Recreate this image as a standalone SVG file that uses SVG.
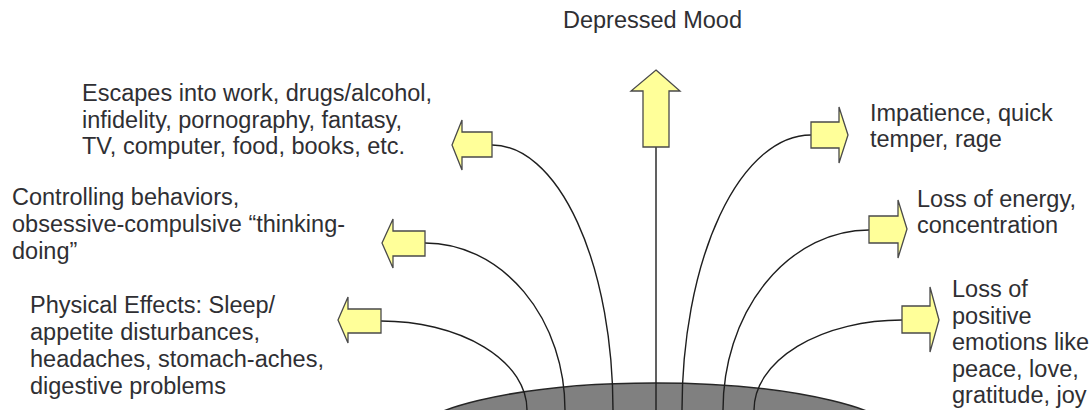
<svg xmlns="http://www.w3.org/2000/svg" width="1092" height="410" viewBox="0 0 1092 410">
<style>
.lbl{font-family:"Liberation Sans",Arial,sans-serif;font-size:23.5px;fill:#2f2f33}
.arr{fill:#ffff99;stroke:#4a4a4a;stroke-width:1.3;stroke-linejoin:miter}
.con{fill:none;stroke:#1e1e1e;stroke-width:1.4}
</style>
<rect width="1092" height="410" fill="#ffffff"/>
<g id="base">
<ellipse cx="655" cy="443" rx="250" ry="60" fill="#808080" stroke="#262626" stroke-width="1.5"/>
</g>
<g id="connectors">
<path class="con" d="M656,147 V412"/>
<path class="con" d="M492,145 A121,265 0 0 1 613,410"/>
<path class="con" d="M425,243 A140,167 0 0 1 565,410"/>
<path class="con" d="M381,321 A146,89 0 0 1 527,410"/>
<path class="con" d="M811,135 A129,275 0 0 0 682,410"/>
<path class="con" d="M869,230 A146,180 0 0 0 723,410"/>
<path class="con" d="M902,320 A148,90 0 0 0 754,410"/>
</g>
<g id="depressed-mood">
<path class="arr" d="M656,70 L680,91 L669,91 L669,147 L643,147 L643,91 L631,91 Z"/>
<text class="lbl" x="563" y="28">Depressed Mood</text>
</g>
<g id="escapes">
<path class="arr" d="M452,145 L462,120 L462,132 L492,132 L492,157 L462,157 L462,170 Z"/>
<text class="lbl" x="82"><tspan x="82" y="101">Escapes into work, drugs/alcohol,</tspan><tspan x="82" y="127.5">infidelity, pornography, fantasy,</tspan><tspan x="82" y="154">TV, computer, food, books, etc.</tspan></text>
</g>
<g id="controlling">
<path class="arr" d="M382,243 L393,219 L393,231 L425,231 L425,256 L393,256 L393,268 Z"/>
<text class="lbl"><tspan x="12" y="205">Controlling behaviors,</tspan><tspan x="12" y="232">obsessive-compulsive “thinking-</tspan><tspan x="12" y="259">doing”</tspan></text>
</g>
<g id="physical">
<path class="arr" d="M338,320 L348,297 L348,309 L381,309 L381,333 L348,333 L348,343 Z"/>
<text class="lbl"><tspan x="30" y="313">Physical Effects: Sleep/</tspan><tspan x="30" y="340">appetite disturbances,</tspan><tspan x="30" y="367">headaches, stomach-aches,</tspan><tspan x="30" y="394">digestive problems</tspan></text>
</g>
<g id="impatience">
<path class="arr" d="M848,135 L839,107 L839,122 L811,122 L811,148 L839,148 L839,163 Z"/>
<text class="lbl"><tspan x="870" y="121">Impatience, quick</tspan><tspan x="870" y="147">temper, rage</tspan></text>
</g>
<g id="energy">
<path class="arr" d="M907,229 L898,200 L898,216 L869,216 L869,243 L898,243 L898,258 Z"/>
<text class="lbl"><tspan x="917" y="207">Loss of energy,</tspan><tspan x="917" y="233">concentration</tspan></text>
</g>
<g id="positive">
<path class="arr" d="M939,320 L930,287 L930,306 L902,306 L902,333 L930,333 L930,352 Z"/>
<text class="lbl"><tspan x="952" y="297">Loss of</tspan><tspan x="952" y="323.5">positive</tspan><tspan x="952" y="350">emotions like</tspan><tspan x="952" y="376.5">peace, love,</tspan><tspan x="952" y="403">gratitude, joy</tspan></text>
</g>
</svg>
